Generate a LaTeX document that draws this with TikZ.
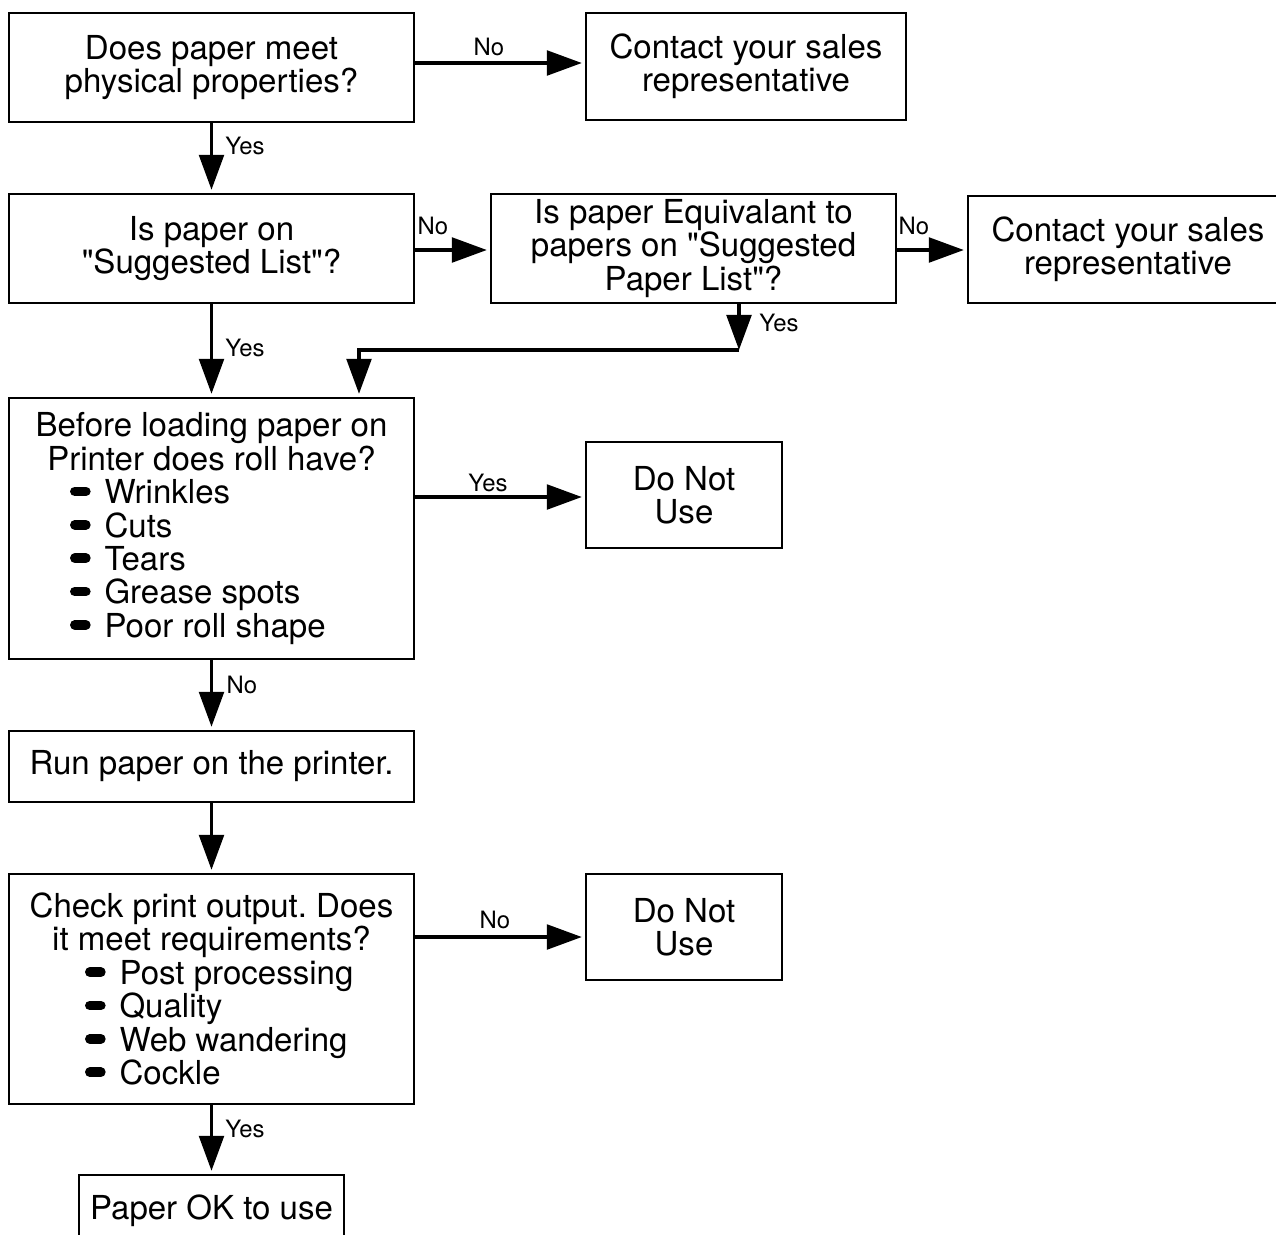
\documentclass[tikz,border=0pt]{standalone}
\usepackage{fontspec}
\setmainfont{TeX Gyre Heros}
\usetikzlibrary{arrows.meta}
\frenchspacing
\newcommand\rbul{\tikz[baseline={(0,-0.37em)}]\draw[line width=0.29em,line cap=round] (0.145em,0) -- (0.48em,0);}
\newcommand\bitem[2]{\makebox[#1][l]{\rbul\hspace{0.42em}#2}}
\newcommand\q{\textquotedbl}

\begin{document}
\begin{tikzpicture}[x=0.02cm, y=-0.02cm,
  box/.style={draw, line width=0.7pt, inner sep=0pt, align=center, font=\fontsize{18.8}{19}\selectfont},
  lbl/.style={font=\fontsize{13.6}{15}\selectfont, inner sep=0pt},
  arr/.style={line width=2.2pt, -{Triangle[length=20pt,width=14pt]}, shorten >=2pt}]
\useasboundingbox (0,0) rectangle (1276,1235);
\clip (0,0) rectangle (1276,1235);
%left column
\node[box, minimum width=8.1cm, minimum height=2.18cm] (physprop) at (211.5,67.5) {Does paper meet\\physical properties?};
\node[box, minimum width=8.1cm, minimum height=2.18cm] (onlist) at (211.5,248.5) {Is paper on\\\q Suggested List\q?};
\node[box, minimum width=8.1cm, minimum height=5.22cm] (roll) at (211.5,528.5) {Before loading paper on\\Printer does roll have?\\
  \bitem{5.66cm}{Wrinkles}\\\bitem{5.66cm}{Cuts}\\\bitem{5.66cm}{Tears}\\\bitem{5.66cm}{Grease spots}\\\bitem{5.66cm}{Poor roll shape}};
\node[box, minimum width=8.1cm, minimum height=1.42cm] (runit) at (211.5,766.5) {Run paper on the printer.};
\node[box, minimum width=8.1cm, minimum height=4.6cm] (check) at (211.5,989) {Check print output. Does\\it meet requirements?\\
  \bitem{5.06cm}{Post processing}\\\bitem{5.06cm}{Quality}\\\bitem{5.06cm}{Web wandering}\\\bitem{5.06cm}{Cockle}};
\node[box, minimum width=5.3cm, minimum height=1.42cm] (paperok) at (211.5,1210.5) {Paper OK to use};
%right side
\node[box, minimum width=6.4cm, minimum height=2.14cm] (sales1) at (746,66.5) {Contact your sales\\representative};
\node[box, minimum width=8.1cm, minimum height=2.18cm] (equiv) at (693.5,248.5) {Is paper Equivalant to\\papers on \q Suggested\\Paper List\q?};
\node[box, minimum width=6.4cm, minimum height=2.14cm] (sales2) at (1128,249.5) {Contact your sales\\representative};
\node[box, minimum width=3.92cm, minimum height=2.12cm] (notuse1) at (684,495) {Do Not\\Use};
\node[box, minimum width=3.92cm, minimum height=2.12cm] (notuse2) at (684,927) {Do Not\\Use};

%connectors
\draw[arr] (physprop.east |- 0,63) -- (sales1.west |- 0,63);
\node[lbl] (no1) at (489,47) {No};
\draw[arr] (physprop) -- (onlist);
\node[lbl] (yes1) at (245,146) {Yes};
\draw[arr] (onlist.east |- 0,250) -- (equiv.west |- 0,250);
\node[lbl] (no2) at (433,226) {No};
\draw[arr] (equiv.east |- 0,250) -- (sales2.west |- 0,250);
\node[lbl] (no3) at (914,226) {No};
\draw[arr] (onlist) -- (roll);
\node[lbl] (yes2) at (245,348) {Yes};
\coordinate (eqbend) at (739,350);
\coordinate (eqdrop) at (359,350);
\draw[arr, shorten >=0pt] (equiv.south -| eqbend) -- (eqbend);
\draw[arr] (eqbend) -- (eqdrop) -- (eqdrop |- roll.north);
\node[lbl] (yes3) at (779,323) {Yes};
\draw[arr] (roll.east |- 0,497) -- (notuse1.west |- 0,497);
\node[lbl] (yes4) at (488,483) {Yes};
\draw[arr] (roll) -- (runit);
\node[lbl] (no4) at (242,685) {No};
\draw[arr] (runit) -- (check);
\draw[arr] (check.east |- 0,937) -- (notuse2.west |- 0,937);
\node[lbl] (no5) at (495,920) {No};
\draw[arr] (check) -- (paperok);
\node[lbl] (yes5) at (245,1129) {Yes};
\end{tikzpicture}
\end{document}
